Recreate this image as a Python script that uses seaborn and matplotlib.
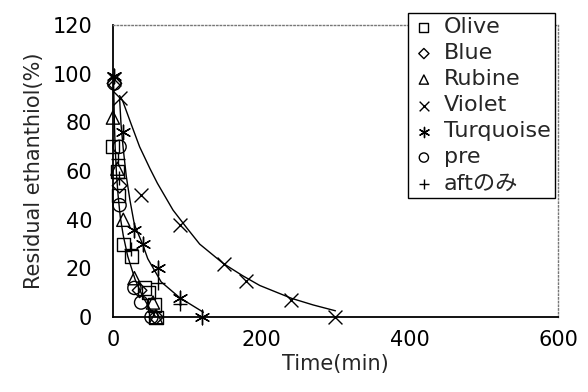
import numpy as np
import pandas as pd
import matplotlib
matplotlib.use("Agg")
import matplotlib.pyplot as plt
import seaborn as sns

# Residual ethanthiol, per sample (time in min, value in %)
olive_t = [0, 6, 8, 14, 25, 43, 48, 56, 58]
olive_v = [70, 60, 50, 30, 25, 12, 10, 5, 0]

blue_t = [2, 9, 36, 58]
blue_v = [96, 54, 11, 0]

rubine_t = [0, 6, 14, 29, 54, 58]
rubine_v = [82, 61, 40, 16, 6, 0]

violet_t = [2, 10, 38, 90, 150, 180, 240, 300]
violet_v = [98, 90, 50, 38, 22, 15, 7, 0]

turq_t = [2, 14, 29, 40, 61, 90, 120]
turq_v = [99, 76, 36, 30, 20, 8, 0]

pre_t = [2, 9, 9, 29, 38, 52]
pre_v = [96, 70, 46, 12, 6, 0]

aft_t = [7, 8, 25, 61, 90]
aft_v = [65, 57, 28, 14, 5.5]

# Trend curves
fast_curve_t = [1, 2, 3, 5, 7, 10, 14, 20, 30, 40, 50, 58]
fast_curve_v = [96, 80, 70, 58, 50, 41, 33.5, 25, 15.4, 8.6, 3.3, 0]

turq_curve_t = [9, 11, 14, 18, 23, 29, 40, 47, 65, 90, 122]
turq_curve_v = [90, 79, 69, 58, 48, 38, 30, 24, 14.5, 8, 2]

violet_curve_t = [9, 13, 25, 36, 50, 60, 81, 100, 117, 149, 175, 198, 241, 270, 300]
violet_curve_v = [91, 89, 79, 70, 61, 55, 44, 36.5, 30, 22, 17, 13, 7.7, 5, 2.6]

x_ticks = [0, 200, 400, 600]
y_ticks = [0, 20, 40, 60, 80, 100, 120]

sns.set_style("white")
plt.rcParams['font.family'] = ['DejaVu Sans', 'Noto Sans CJK JP']

fig = plt.figure(figsize=(5.88, 3.92), dpi=100)
ax = fig.add_axes([0.192, 0.191, 0.757, 0.745])

# curves first, markers on top
for ct, cv in [(fast_curve_t, fast_curve_v), (turq_curve_t, turq_curve_v),
               (violet_curve_t, violet_curve_v)]:
    sns.lineplot(x=ct, y=cv, color='black', lw=1, sort=False, estimator=None, ax=ax)

# hollow markers
hollow = [('Olive', olive_t, olive_v, 's', 90),
          ('Blue', blue_t, blue_v, 'D', 55),
          ('Rubine', rubine_t, rubine_v, '^', 90)]
for name, t, v, m, sz in hollow:
    sns.scatterplot(x=t, y=v, marker=m, s=sz, facecolor='none', edgecolor='black',
                    linewidth=1, label=name, ax=ax, zorder=3)

sns.scatterplot(x=violet_t, y=violet_v, marker='x', s=100, color='black',
                linewidth=1, label='Violet', ax=ax, zorder=3)
sns.scatterplot(x=turq_t, y=turq_v, marker=(6, 2, 0), s=110, color='black',
                linewidth=1, label='Turquoise', ax=ax, zorder=3)
sns.scatterplot(x=pre_t, y=pre_v, marker='o', s=90, facecolor='none', edgecolor='black',
                linewidth=1, label='pre', ax=ax, zorder=3)
sns.scatterplot(x=aft_t, y=aft_v, marker='+', s=110, color='black',
                linewidth=1, label='aftのみ', ax=ax, zorder=3)

for coll in ax.collections:
    coll.set_clip_on(False)

ax.set_xlim(0, 600)
ax.set_ylim(0, 120)
ax.set_xticks(x_ticks)
ax.set_yticks(y_ticks)
ax.tick_params(direction='in', length=5, width=1, labelsize=15, colors='black')
ax.tick_params(axis='y', pad=15)
ax.tick_params(axis='x', pad=9)
ax.set_xlabel('Time(min)', fontsize=15, labelpad=3)
ax.set_ylabel('Residual ethanthiol(%)', fontsize=15, labelpad=6)

for side in ['left', 'bottom']:
    ax.spines[side].set_color('black')
    ax.spines[side].set_linewidth(1.3)
for side in ['top', 'right']:
    ax.spines[side].set_color('#777777')
    ax.spines[side].set_linestyle(':')
    ax.spines[side].set_linewidth(1)

leg = ax.legend(loc='upper right', bbox_to_anchor=(0.944, 0.967),
                bbox_transform=fig.transFigure, fontsize=16, markerscale=0.7,
                frameon=True, fancybox=False, borderaxespad=0, borderpad=0.2,
                labelspacing=0.27, handlelength=1.0, handletextpad=0.4)
leg.get_frame().set_edgecolor('black')
leg.get_frame().set_linewidth(1)
leg.get_frame().set_facecolor('white')
leg.get_frame().set_alpha(1)

fig.savefig('out.png', dpi=100)
